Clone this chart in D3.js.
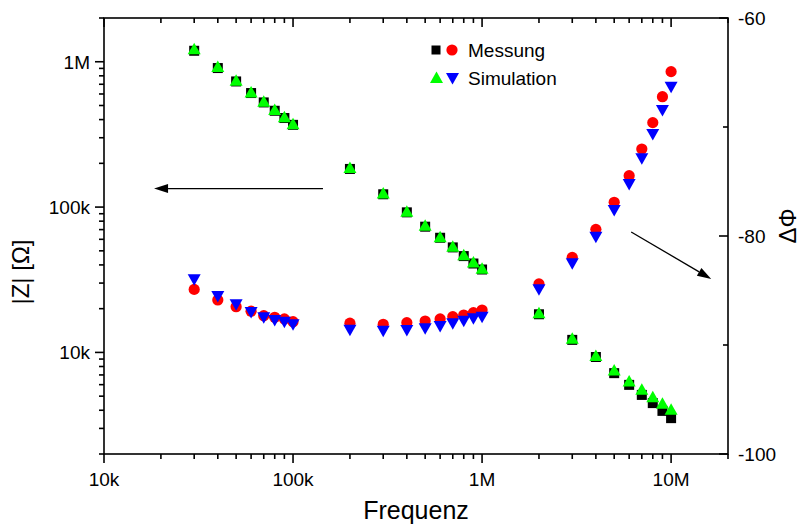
<!DOCTYPE html>
<html><head><meta charset="utf-8">
<script src="https://cdn.jsdelivr.net/npm/d3@7"></script>
<style>
html,body{margin:0;padding:0;background:#fff;}
svg{display:block;font-family:"Liberation Sans",Arial,sans-serif;}
</style></head>
<body>
<svg id="chart" width="802" height="530"></svg>
<script>
// ---- data ----
const freq = [3e4,4e4,5e4,6e4,7e4,8e4,9e4,1e5,
  2e5,3e5,4e5,5e5,6e5,7e5,8e5,9e5,1e6,
  2e6,3e6,4e6,5e6,6e6,7e6,8e6,9e6,1e7];
const zMess = [1.19e6,9.05e5,7.32e5,6.09e5,5.25e5,4.6e5,4.1e5,3.68e5,
  1.83e5,1.225e5,9.2e4,7.33e4,6.15e4,5.28e4,4.6e4,4.09e4,3.72e4,
  1.83e4,1.22e4,9.3e3,7.2e3,5.98e3,5.1e3,4.48e3,3.96e3,3.53e3];
const zSim = [1.22e6,9.2e5,7.4e5,6.15e5,5.3e5,4.65e5,4.15e5,3.72e5,
  1.86e5,1.24e5,9.3e4,7.45e4,6.2e4,5.33e4,4.66e4,4.15e4,3.76e4,
  1.86e4,1.24e4,9.45e3,7.5e3,6.3e3,5.53e3,4.92e3,4.43e3,4.03e3];
const phiMess = [-84.9,-85.87,-86.49,-86.9,-87.31,-87.46,-87.61,-87.86,
  -88.0,-88.1,-87.95,-87.8,-87.61,-87.4,-87.25,-87.03,-86.79,
  -84.4,-81.96,-79.39,-76.91,-74.47,-72.02,-69.6,-67.22,-64.92];
const phiSim = [-83.97,-85.5,-86.27,-86.97,-87.46,-87.71,-87.86,-88.1,
  -88.6,-88.69,-88.62,-88.47,-88.26,-88.0,-87.77,-87.55,-87.4,
  -84.89,-82.5,-80.06,-77.61,-75.23,-72.87,-70.64,-68.44,-66.3];

const xMajor = [1e4,1e5,1e6,1e7];
const xLabels = ["10k","100k","1M","10M"];
const yMajor = [1e4,1e5,1e6];
const yLabels = ["10k","100k","1M"];
const phiMajor = [-100,-80,-60];
const phiMinor = [-90,-70];
const legendLabels = ["Messung","Simulation"];
// annotation arrows in data coordinates: [freqStart, valueStart, freqEnd, valueEnd]
const arrowZ = [1.44e5, 1.34e5, 1.84e4, 1.34e5];
const arrowPhi = [6.15e6, -79.63, 1.63e7, -83.94];

// ---- layout ----
const L = 104, R = 728, T = 18, B = 454;
const svg = d3.select("#chart");
const x = d3.scaleLog().domain([1e4, 2e7]).range([L, R]);
const yZ = d3.scaleLog().domain([2e3, 2e6]).range([B, T]);
const yP = d3.scaleLinear().domain([-100, -60]).range([B, T]);

function minorLog(lo, hi) {
  const out = [];
  for (let d = Math.floor(Math.log10(lo)); d <= Math.ceil(Math.log10(hi)); d++) {
    for (let m = 2; m <= 9; m++) {
      const v = m * Math.pow(10, d);
      if (v >= lo && v <= hi) out.push(v);
    }
  }
  return out;
}
const xMinor = minorLog(1e4, 2e7);
const yMinor = minorLog(2e3, 2e6);

const ax = svg.append("g").attr("stroke", "#000").attr("stroke-width", 1.6).attr("fill", "none");
ax.append("rect").attr("x", L).attr("y", T).attr("width", R - L).attr("height", B - T);

// bottom ticks (down) and top ticks (down, inward)
xMajor.forEach(v => {
  ax.append("line").attr("x1", x(v)).attr("x2", x(v)).attr("y1", B).attr("y2", B + 9);
  ax.append("line").attr("x1", x(v)).attr("x2", x(v)).attr("y1", T).attr("y2", T + 9);
});
xMinor.forEach(v => {
  ax.append("line").attr("x1", x(v)).attr("x2", x(v)).attr("y1", B).attr("y2", B + 5);
  ax.append("line").attr("x1", x(v)).attr("x2", x(v)).attr("y1", T).attr("y2", T + 5);
});
// left ticks (outward)
yMajor.forEach(v => ax.append("line").attr("x1", L - 9).attr("x2", L).attr("y1", yZ(v)).attr("y2", yZ(v)));
yMinor.forEach(v => ax.append("line").attr("x1", L - 5).attr("x2", L).attr("y1", yZ(v)).attr("y2", yZ(v)));
// right ticks (inward)
phiMajor.forEach(v => ax.append("line").attr("x1", R - 9).attr("x2", R).attr("y1", yP(v)).attr("y2", yP(v)));
phiMinor.forEach(v => ax.append("line").attr("x1", R - 5).attr("x2", R).attr("y1", yP(v)).attr("y2", yP(v)));

const txt = svg.append("g").attr("fill", "#000").attr("font-size", 19);
xMajor.forEach((v, i) => txt.append("text").attr("x", x(v)).attr("y", B + 32)
  .attr("text-anchor", "middle").text(xLabels[i]));
yMajor.forEach((v, i) => txt.append("text").attr("x", L - 14).attr("y", yZ(v) + 7)
  .attr("text-anchor", "end").text(yLabels[i]));
phiMajor.forEach(v => txt.append("text").attr("x", R + 10).attr("y", yP(v) + 7)
  .attr("text-anchor", "start").text(v));

svg.append("text").attr("x", (L + R) / 2).attr("y", 519).attr("text-anchor", "middle")
  .attr("font-size", 25).text("Frequenz");
svg.append("text").attr("transform", `translate(29,${(T + B) / 2 + 36}) rotate(-90)`)
  .attr("text-anchor", "middle").attr("font-size", 24).text("|Z| [Ω]");
svg.append("text").attr("transform", `translate(796,${(T + B) / 2 - 10}) rotate(-90)`)
  .attr("text-anchor", "middle").attr("font-size", 24).text("ΔΦ");

// ---- markers ----
const triUp = "M0,-6.5L6.5,5L-6.5,5Z";
const triDown = "M0,6.5L6.5,-5L-6.5,-5Z";
const g = svg.append("g");
freq.forEach((f, i) => {
  g.append("rect").attr("x", x(f) - 5).attr("y", yZ(zMess[i]) - 5).attr("width", 10).attr("height", 10).attr("fill", "#000");
});
freq.forEach((f, i) => {
  g.append("path").attr("d", triUp).attr("transform", `translate(${x(f)},${yZ(zSim[i])})`).attr("fill", "#00ff00");
});
freq.forEach((f, i) => {
  g.append("circle").attr("cx", x(f)).attr("cy", yP(phiMess[i])).attr("r", 5.6).attr("fill", "#ff0000");
});
freq.forEach((f, i) => {
  g.append("path").attr("d", triDown).attr("transform", `translate(${x(f)},${yP(phiSim[i])})`).attr("fill", "#0000ff");
});

// ---- arrows ----
function arrow(x1, y1, x2, y2) {
  const a = Math.atan2(y2 - y1, x2 - x1);
  const len = 14, hw = 4.5;
  const bx = x2 - len * Math.cos(a), by = y2 - len * Math.sin(a);
  svg.append("line").attr("x1", x1).attr("y1", y1).attr("x2", bx).attr("y2", by)
    .attr("stroke", "#000").attr("stroke-width", 1.3);
  const px = -Math.sin(a) * hw, py = Math.cos(a) * hw;
  svg.append("path").attr("d", `M${x2},${y2}L${bx + px},${by + py}L${bx - px},${by - py}Z`).attr("fill", "#000");
}
arrow(x(arrowZ[0]), yZ(arrowZ[1]), x(arrowZ[2]), yZ(arrowZ[3]));
arrow(x(arrowPhi[0]), yP(arrowPhi[1]), x(arrowPhi[2]), yP(arrowPhi[3]));

// ---- legend ----
const lg = svg.append("g");
lg.append("rect").attr("x", 431.5).attr("y", 45.5).attr("width", 9).attr("height", 9).attr("fill", "#000");
lg.append("circle").attr("cx", 452).attr("cy", 50).attr("r", 5.6).attr("fill", "#ff0000");
lg.append("path").attr("d", triUp).attr("transform", "translate(436.5,78)").attr("fill", "#00ff00");
lg.append("path").attr("d", triDown).attr("transform", "translate(452.5,78)").attr("fill", "#0000ff");
legendLabels.forEach((t, i) => lg.append("text").attr("x", 468).attr("y", 57 + i * 28)
  .attr("font-size", 19).text(t));
</script>
</body></html>
